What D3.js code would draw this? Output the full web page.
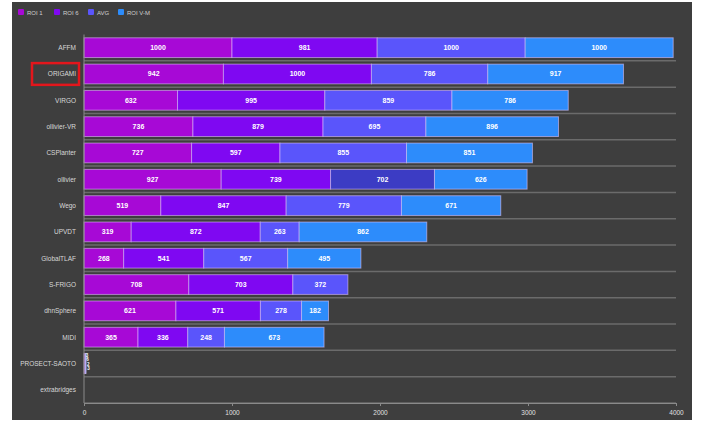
<!DOCTYPE html>
<html><head><meta charset="utf-8">
<script src="https://cdn.jsdelivr.net/npm/d3@7"></script>
<style>
html,body{margin:0;padding:0;background:#fff;}
svg{display:block;font-family:"Liberation Sans",Arial,sans-serif;}
</style></head>
<body><svg id="c" width="701" height="424"></svg>
<script>
const categories = ["AFFM","ORIGAMI","VIRGO","ollivier-VR","CSPlanter","ollivier","Wego","UPVDT","GlobalTLAF","S-FRIGO","dhnSphere","MIDI","PROSECT-SAOTO","extrabridges"];
const seriesNames = ["ROI 1","ROI 6","AVG","ROI V-M"];
const roi1 = [1000, 942, 632, 736, 727, 927, 519, 319, 268, 708, 621, 365, 3, 0];
const roi6 = [981, 1000, 995, 879, 597, 739, 847, 872, 541, 703, 571, 336, 6, 0];
const avg  = [1000, 786, 859, 695, 855, 702, 779, 263, 567, 372, 278, 248, 2, 0];
const roiVM= [1000, 917, 786, 896, 851, 626, 671, 862, 495, 0, 182, 673, 3, 0];
const xTicks = [0, 1000, 2000, 3000, 4000];

const colors = ["#a709d6", "#7f08f2", "#5a55fb", "#2d8cfb"];
const svg = d3.select("#c");
svg.append("rect").attr("x",12).attr("y",2).attr("width",680).attr("height",418).attr("fill","#3e3e3e");

const x = d3.scaleLinear().domain([0,4000]).range([84,676]);
const y = d3.scaleBand().domain(categories).range([34.5,403]).paddingInner(0.25).paddingOuter(0.125);
const step = y.step();

const rows = categories.map((c,i)=>({cat:c, vals:[roi1[i],roi6[i],avg[i],roiVM[i]]}));

// separators
svg.append("g").selectAll("line").data(categories).join("line")
  .attr("x1",84).attr("x2",676)
  .attr("y1",d=>y(d)-step*0.125+step).attr("y2",d=>y(d)-step*0.125+step)
  .attr("stroke","#6b6b6b").attr("stroke-width",1.5);

// bars
const segs=[];
rows.forEach((r,ri)=>{let acc=0;r.vals.forEach((v,si)=>{segs.push({cat:r.cat,ri,si,x0:acc,x1:acc+v,v});acc+=v;});});
const g = svg.append("g");
g.selectAll("rect").data(segs.filter(d=>d.v>0)).join("rect")
  .attr("x",d=>x(d.x0)).attr("y",d=>y(d.cat))
  .attr("width",d=>x(d.x1)-x(d.x0)).attr("height",y.bandwidth())
  .attr("fill",d=> (d.ri===5 && d.si===2) ? "#3c3cc4" : colors[d.si])
  .attr("stroke","rgba(230,200,255,0.55)").attr("stroke-width",1);

g.selectAll("text").data(segs.filter(d=>d.v>0)).join("text")
  .attr("x",d=> (x(d.x1)-x(d.x0))>14 ? (x(d.x0)+x(d.x1))/2 : x(d.x0)+3)
  .attr("y",d=> (x(d.x1)-x(d.x0))>14 ? y(d.cat)+y.bandwidth()/2+2.5 : y(d.cat)+3+d.si*4.5)
  .attr("text-anchor","middle").attr("fill","#fff")
  .attr("font-size",d=> (x(d.x1)-x(d.x0))>14 ? 7 : 4.5).attr("font-weight","bold")
  .text(d=>d.v);

// y axis
svg.append("line").attr("x1",84).attr("x2",84).attr("y1",34.5).attr("y2",403).attr("stroke","#8a8a8a").attr("stroke-width",1);
svg.append("g").selectAll("text").data(categories).join("text")
  .attr("x",76).attr("y",d=>y(d)+y.bandwidth()/2+2.5)
  .attr("text-anchor","end").attr("fill","#d8d8d8").attr("font-size",6.5)
  .text(d=>d);

// red highlight box
svg.append("rect").attr("x",32).attr("y",y("ORIGAMI")-1).attr("width",47).attr("height",y.bandwidth()+2)
  .attr("fill","none").attr("stroke","#e3161c").attr("stroke-width",2.5);

// x axis
const xa = svg.append("g").attr("transform","translate(0,403)")
  .call(d3.axisBottom(x).tickValues(xTicks).tickSize(3).tickFormat(d3.format("d")));
xa.select(".domain").attr("stroke","#8a8a8a");
xa.selectAll(".tick line").attr("stroke","#8a8a8a");
xa.selectAll(".tick text").attr("fill","#e0e0e0").attr("font-size",6.5).attr("dy","0.9em");

// legend
const lg = svg.append("g");
const lx = [18, 54, 88, 118];
seriesNames.forEach((n,i)=>{
  lg.append("rect").attr("x",lx[i]).attr("y",9).attr("width",6).attr("height",6).attr("rx",1).attr("fill",colors[i]);
  lg.append("text").attr("x",lx[i]+9).attr("y",14.5).attr("fill","#cfcfcf").attr("font-size",6).text(n);
});
</script></body></html>
